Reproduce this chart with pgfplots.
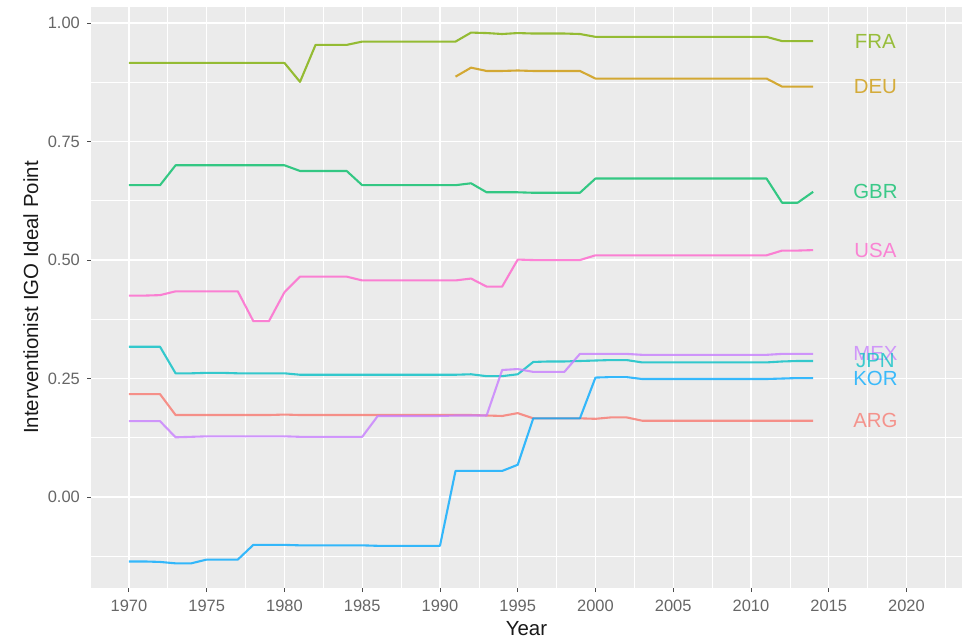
\documentclass[border=0pt]{standalone}
\usepackage{pgfplots}
\pgfplotsset{compat=1.18}
\usepackage{fontspec}
\setmainfont{Liberation Sans}
\definecolor{panel}{HTML}{EBEBEB}
\definecolor{tickgrey}{HTML}{666666}
\definecolor{cARG}{HTML}{F8766D}
\definecolor{cDEU}{HTML}{CD9600}
\definecolor{cFRA}{HTML}{7CAE00}
\definecolor{cGBR}{HTML}{00BE67}
\definecolor{cJPN}{HTML}{00BFC4}
\definecolor{cKOR}{HTML}{00A9FF}
\definecolor{cMEX}{HTML}{C77CFF}
\definecolor{cUSA}{HTML}{FF61CC}
\begin{document}
\begin{tikzpicture}
\begin{axis}[
  scale only axis, width=871bp, height=581bp,
  xmin=1967.56, xmax=2023.57, ymin=-0.192, ymax=1.034,
  axis background/.style={fill=panel},
  axis line style={draw=none},
  grid=both,
  major grid style={white, line width=1.3bp},
  minor grid style={white, line width=0.65bp},
  xtick={1970,1975,...,2020},
  minor xtick={1972.5,1977.5,...,2022.5},
  ytick={0,0.25,0.5,0.75,1},
  minor ytick={-0.125,0.125,0.375,0.625,0.875},
  tick align=outside, tick pos=left,
  major tick length=4bp, minor tick length=0bp,
  major tick style={color=black!70, line width=0.9bp},
  minor tick style={draw=none},
  /pgf/number format/assume math mode=true,
  every tick label/.append style={font=\fontsize{16.5}{18}\selectfont, text=tickgrey, inner sep=0pt},
  xticklabel style={/pgf/number format/1000 sep={}, yshift=-8bp},
  yticklabel style={/pgf/number format/.cd, fixed, fixed zerofill, precision=2, /tikz/.cd, xshift=-7bp},
  xlabel={Year},
  ylabel={Interventionist IGO Ideal Point},
  xlabel style={font=\fontsize{20.5}{22}\selectfont, text=black!90, at={(axis description cs:0.5,-0.0809)}, anchor=base, inner sep=0pt},
  ylabel style={font=\fontsize{20.5}{22}\selectfont, text=black!90, at={(axis description cs:-0.0608,0.5)}, anchor=base, rotate=0, inner sep=0pt},
  clip=false,
  every axis plot/.append style={line width=2.1bp, no markers, draw opacity=0.78, line join=round},
]
\coordinate (bl) at (rel axis cs:0,0);
\coordinate (tr) at (rel axis cs:1,1);
% ARG
\addplot[cARG] table {
x y
1970 0.217
1971 0.217
1972 0.217
1973 0.173
1974 0.173
1975 0.173
1976 0.173
1977 0.173
1978 0.173
1979 0.173
1980 0.174
1981 0.173
1982 0.173
1983 0.173
1984 0.173
1985 0.173
1986 0.173
1987 0.173
1988 0.173
1989 0.173
1990 0.173
1991 0.173
1992 0.173
1993 0.172
1994 0.171
1995 0.177
1996 0.166
1997 0.166
1998 0.166
1999 0.166
2000 0.165
2001 0.168
2002 0.168
2003 0.161
2004 0.161
2005 0.161
2006 0.161
2007 0.161
2008 0.161
2009 0.161
2010 0.161
2011 0.161
2012 0.161
2013 0.161
2014 0.161
};
% DEU
\addplot[cDEU] table {
x y
1991 0.887
1992 0.906
1993 0.899
1994 0.899
1995 0.900
1996 0.899
1997 0.899
1998 0.899
1999 0.899
2000 0.883
2001 0.883
2002 0.883
2003 0.883
2004 0.883
2005 0.883
2006 0.883
2007 0.883
2008 0.883
2009 0.883
2010 0.883
2011 0.883
2012 0.866
2013 0.866
2014 0.866
};
% FRA
\addplot[cFRA] table {
x y
1970 0.916
1971 0.916
1972 0.916
1973 0.916
1974 0.916
1975 0.916
1976 0.916
1977 0.916
1978 0.916
1979 0.916
1980 0.916
1981 0.876
1982 0.954
1983 0.954
1984 0.954
1985 0.961
1986 0.961
1987 0.961
1988 0.961
1989 0.961
1990 0.961
1991 0.961
1992 0.980
1993 0.979
1994 0.977
1995 0.979
1996 0.978
1997 0.978
1998 0.978
1999 0.977
2000 0.971
2001 0.971
2002 0.971
2003 0.971
2004 0.971
2005 0.971
2006 0.971
2007 0.971
2008 0.971
2009 0.971
2010 0.971
2011 0.971
2012 0.962
2013 0.962
2014 0.962
};
% GBR
\addplot[cGBR] table {
x y
1970 0.658
1971 0.658
1972 0.658
1973 0.700
1974 0.700
1975 0.700
1976 0.700
1977 0.700
1978 0.700
1979 0.700
1980 0.700
1981 0.688
1982 0.688
1983 0.688
1984 0.688
1985 0.658
1986 0.658
1987 0.658
1988 0.658
1989 0.658
1990 0.658
1991 0.658
1992 0.662
1993 0.643
1994 0.643
1995 0.643
1996 0.642
1997 0.642
1998 0.642
1999 0.642
2000 0.672
2001 0.672
2002 0.672
2003 0.672
2004 0.672
2005 0.672
2006 0.672
2007 0.672
2008 0.672
2009 0.672
2010 0.672
2011 0.672
2012 0.621
2013 0.621
2014 0.644
};
% JPN
\addplot[cJPN] table {
x y
1970 0.317
1971 0.317
1972 0.317
1973 0.261
1974 0.261
1975 0.262
1976 0.262
1977 0.261
1978 0.261
1979 0.261
1980 0.261
1981 0.258
1982 0.258
1983 0.258
1984 0.258
1985 0.258
1986 0.258
1987 0.258
1988 0.258
1989 0.258
1990 0.258
1991 0.258
1992 0.259
1993 0.255
1994 0.255
1995 0.259
1996 0.285
1997 0.286
1998 0.286
1999 0.287
2000 0.288
2001 0.289
2002 0.289
2003 0.284
2004 0.284
2005 0.284
2006 0.284
2007 0.284
2008 0.284
2009 0.284
2010 0.284
2011 0.284
2012 0.286
2013 0.287
2014 0.287
};
% KOR
\addplot[cKOR] table {
x y
1970 -0.136
1971 -0.136
1972 -0.137
1973 -0.140
1974 -0.140
1975 -0.132
1976 -0.132
1977 -0.132
1978 -0.101
1979 -0.101
1980 -0.101
1981 -0.102
1982 -0.102
1983 -0.102
1984 -0.102
1985 -0.102
1986 -0.103
1987 -0.103
1988 -0.103
1989 -0.103
1990 -0.103
1991 0.055
1992 0.055
1993 0.055
1994 0.055
1995 0.068
1996 0.166
1997 0.166
1998 0.166
1999 0.166
2000 0.252
2001 0.253
2002 0.253
2003 0.249
2004 0.249
2005 0.249
2006 0.249
2007 0.249
2008 0.249
2009 0.249
2010 0.249
2011 0.249
2012 0.250
2013 0.251
2014 0.251
};
% MEX
\addplot[cMEX] table {
x y
1970 0.160
1971 0.160
1972 0.160
1973 0.126
1974 0.127
1975 0.128
1976 0.128
1977 0.128
1978 0.128
1979 0.128
1980 0.128
1981 0.127
1982 0.127
1983 0.127
1984 0.127
1985 0.127
1986 0.171
1987 0.171
1988 0.171
1989 0.171
1990 0.171
1991 0.172
1992 0.172
1993 0.172
1994 0.268
1995 0.270
1996 0.264
1997 0.264
1998 0.264
1999 0.302
2000 0.302
2001 0.302
2002 0.302
2003 0.300
2004 0.300
2005 0.300
2006 0.300
2007 0.300
2008 0.300
2009 0.300
2010 0.300
2011 0.300
2012 0.302
2013 0.302
2014 0.302
};
% USA
\addplot[cUSA] table {
x y
1970 0.425
1971 0.425
1972 0.426
1973 0.434
1974 0.434
1975 0.434
1976 0.434
1977 0.434
1978 0.371
1979 0.371
1980 0.432
1981 0.465
1982 0.465
1983 0.465
1984 0.465
1985 0.457
1986 0.457
1987 0.457
1988 0.457
1989 0.457
1990 0.457
1991 0.457
1992 0.461
1993 0.444
1994 0.444
1995 0.501
1996 0.500
1997 0.500
1998 0.500
1999 0.500
2000 0.510
2001 0.510
2002 0.510
2003 0.510
2004 0.510
2005 0.510
2006 0.510
2007 0.510
2008 0.510
2009 0.510
2010 0.510
2011 0.510
2012 0.520
2013 0.520
2014 0.521
};
\begin{scope}[every node/.style={font=\fontsize{20.5}{22}\selectfont, inner sep=0pt, anchor=center, text opacity=0.75}]
\node[text=cARG] at (axis cs:2018,0.161) {ARG};
\node[text=cDEU] at (axis cs:2018,0.866) {DEU};
\node[text=cFRA] at (axis cs:2018,0.962) {FRA};
\node[text=cGBR] at (axis cs:2018,0.644) {GBR};
\node[text=cMEX] at (axis cs:2018,0.302) {MEX};
\node[text=cJPN] at (axis cs:2018,0.287) {JPN};
\node[text=cKOR] at (axis cs:2018,0.251) {KOR};
\node[text=cUSA] at (axis cs:2018,0.520) {USA};
\end{scope}
\end{axis}
\pgfresetboundingbox
\path[use as bounding box] ([shift={(-91bp,-51bp)}]bl) rectangle ([shift={(4bp,7bp)}]tr);
\end{tikzpicture}
\end{document}
